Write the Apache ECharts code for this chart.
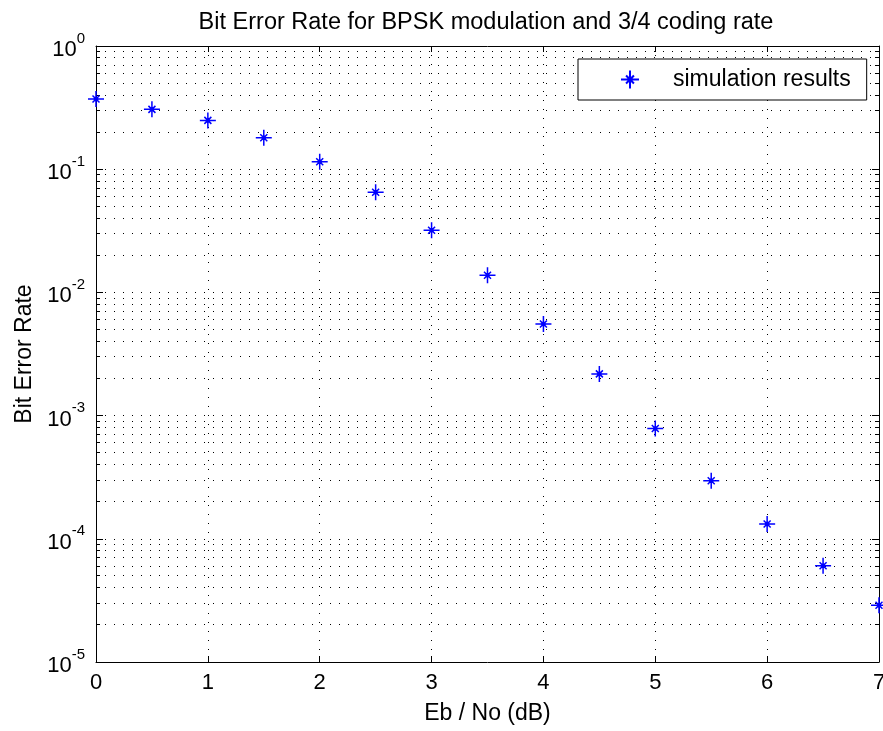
<!DOCTYPE html>
<html>
<head>
<meta charset="utf-8">
<title>BER BPSK 3/4</title>
<script src="https://cdn.jsdelivr.net/npm/echarts@6/dist/echarts.min.js"></script>
<style>
  html, body { margin: 0; padding: 0; background: #fff; }
  #main { width: 883px; height: 731px; }
</style>
</head>
<body>
<div id="main"></div>
<script>
// Eb/No (dB) and measured bit error rate
var ebNo = [0, 0.5, 1, 1.5, 2, 2.5, 3, 3.5, 4, 4.5, 5, 5.5, 6, 6.5, 7];
var ber = [0.372, 0.306, 0.249, 0.180, 0.115, 0.0650, 0.0320, 0.0138, 0.00554,
           0.00218, 0.000785, 0.000296, 0.000132, 0.0000605, 0.0000289];

// minor grid positions of the log axis (2..9 in each decade)
var decades = [1e-5, 1e-4, 1e-3, 1e-2, 1e-1];
var minorSteps = [2, 3, 4, 5, 6, 7, 8, 9];

var FONT = '"Liberation Sans", Arial, sans-serif';

var minorVals = [];
decades.forEach(function (d) {
  minorSteps.forEach(function (m) { minorVals.push([0, d * m]); });
});

var myChart = echarts.init(document.getElementById('main'));

var dotted = { color: '#000', width: 1, type: [1, 8] };

// matlab style '*' marker: long plus, short diagonals
var star = 'path://M0 8 L16 8 M8 0 L8 16 M4.5 4.5 L11.5 11.5 M11.5 4.5 L4.5 11.5 M6.5 6.5 L9.5 6.5 L9.5 9.5 L6.5 9.5 Z';

function crisp(n) { return Math.round(n - 0.5) + 0.5; }

myChart.setOption({
  animation: false,
  backgroundColor: '#fff',
  title: {
    text: 'Bit Error Rate for BPSK modulation and 3/4 coding rate',
    left: 481,
    top: 6,
    textAlign: 'center',
    textStyle: { fontFamily: FONT, fontSize: 23.5, fontWeight: 'normal', color: '#000' }
  },
  legend: {
    data: ['simulation results'],
    left: 578,
    top: 59,
    padding: [9, 16, 9, 42],
    backgroundColor: '#fff',
    borderColor: '#000',
    borderWidth: 1,
    itemWidth: 18,
    itemHeight: 18,
    textStyle: { fontFamily: FONT, fontSize: 23, color: '#000', padding: [0, 0, 0, 29] }
  },
  grid: { left: 96, right: 4, top: 46, bottom: 69, containLabel: false, outerBoundsMode: 'none' },
  xAxis: [{
    type: 'value',
    min: 0,
    max: 7,
    interval: 1,
    name: 'Eb / No (dB)',
    nameLocation: 'middle',
    nameGap: 40,
    nameTextStyle: { fontFamily: FONT, fontSize: 23, color: '#000' },
    axisLine: { show: true, onZero: false, lineStyle: { color: '#000', width: 1 } },
    axisTick: { inside: true, length: 6, lineStyle: { color: '#000' } },
    axisLabel: { fontFamily: FONT, fontSize: 22, color: '#000', margin: 10 },
    splitLine: { show: true, lineStyle: dotted }
  }, {
    type: 'value',
    position: 'top',
    min: 0,
    max: 7,
    interval: 1,
    axisLine: { show: true, onZero: false, lineStyle: { color: '#000', width: 1 } },
    axisTick: { inside: true, length: 6, lineStyle: { color: '#000' } },
    axisLabel: { show: false },
    splitLine: { show: false }
  }],
  yAxis: [{
    type: 'log',
    logBase: 10,
    min: 1e-5,
    max: 1,
    name: 'Bit Error Rate',
    nameLocation: 'middle',
    nameGap: 60,
    nameTextStyle: { fontFamily: FONT, fontSize: 23, color: '#000' },
    axisLine: { show: true, onZero: false, lineStyle: { color: '#000', width: 1 } },
    axisTick: { inside: true, length: 7, lineStyle: { color: '#000' } },
    axisLabel: {
      margin: 11,
      formatter: function (v) {
        return '{b|10}{s|' + Math.round(Math.log10(v)) + '}';
      },
      rich: {
        b: { fontFamily: FONT, fontSize: 22, color: '#000', lineHeight: 30, verticalAlign: 'bottom' },
        s: { fontFamily: FONT, fontSize: 15, color: '#000', lineHeight: 30, verticalAlign: 'top' }
      }
    },
    splitLine: { show: true, lineStyle: dotted }
  }, {
    type: 'log',
    logBase: 10,
    min: 1e-5,
    max: 1,
    position: 'right',
    axisLine: { show: true, onZero: false, lineStyle: { color: '#000', width: 1 } },
    axisTick: { inside: true, length: 7, lineStyle: { color: '#000' } },
    axisLabel: { show: false },
    splitLine: { show: false }
  }],
  series: [{
    name: 'minor grid',
    type: 'custom',
    silent: true,
    z: 1,
    data: minorVals,
    renderItem: function (params, api) {
      var v = api.value(1);
      var p0 = api.coord([0, v]);
      var p1 = api.coord([7, v]);
      var y = crisp(p0[1]);
      var st = { stroke: '#000', lineWidth: 1 };
      return {
        type: 'group',
        children: [
          { type: 'line', shape: { x1: p0[0], y1: y, x2: p1[0], y2: y },
            style: { stroke: '#000', lineWidth: 1, lineDash: [1, 8] } },
          { type: 'line', shape: { x1: p0[0], y1: y, x2: p0[0] + 4, y2: y }, style: st },
          { type: 'line', shape: { x1: p1[0] - 4, y1: y, x2: p1[0], y2: y }, style: st }
        ]
      };
    }
  }, {
    name: 'simulation results',
    type: 'scatter',
    z: 5,
    symbol: star,
    symbolSize: 16,
    data: ebNo.map(function (x, i) { return [x, ber[i]]; }),
    itemStyle: { color: '#0000ff', borderColor: '#0000ff', borderWidth: 1.5, opacity: 1 }
  }]
});
</script>
</body>
</html>
